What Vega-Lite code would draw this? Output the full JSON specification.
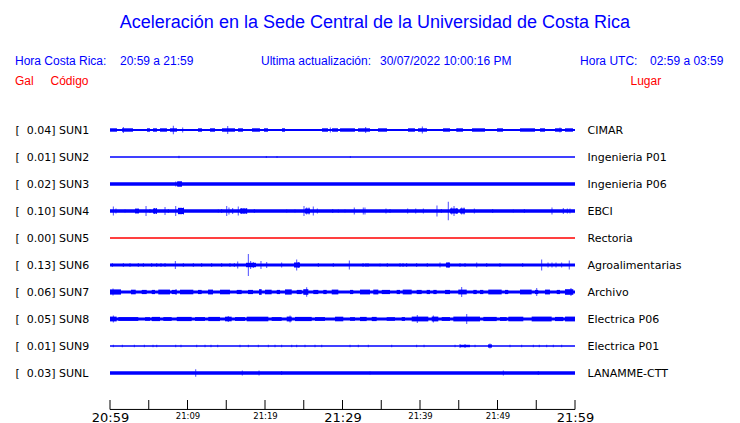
{
  "$schema": "https://vega.github.io/schema/vega-lite/v6.json",
  "width": 465,
  "height": 297,
  "autosize": {"type": "none"},
  "padding": {"left": 110, "top": 103, "right": 165, "bottom": 23},
  "background": "white",
  "config": {"view": {"stroke": null}},
  "datasets": {
    "estaciones": [
      {"codigo": "SUN1", "etiqueta": "[\u00a0\u00a00.04] SUN1", "lugar": "CIMAR", "ruido": 0.9},
      {"codigo": "SUN2", "etiqueta": "[\u00a0\u00a00.01] SUN2", "lugar": "Ingenieria P01", "ruido": 0.5},
      {"codigo": "SUN3", "etiqueta": "[\u00a0\u00a00.02] SUN3", "lugar": "Ingenieria P06", "ruido": 1.7},
      {"codigo": "SUN4", "etiqueta": "[\u00a0\u00a00.10] SUN4", "lugar": "EBCI", "ruido": 1.7},
      {"codigo": "SUN5", "etiqueta": "[\u00a0\u00a00.00] SUN5", "lugar": "Rectoria", "ruido": 0.5},
      {"codigo": "SUN6", "etiqueta": "[\u00a0\u00a00.13] SUN6", "lugar": "Agroalimentarias", "ruido": 1.5},
      {"codigo": "SUN7", "etiqueta": "[\u00a0\u00a00.06] SUN7", "lugar": "Archivo", "ruido": 1.6},
      {"codigo": "SUN8", "etiqueta": "[\u00a0\u00a00.05] SUN8", "lugar": "Electrica P06", "ruido": 1.6},
      {"codigo": "SUN9", "etiqueta": "[\u00a0\u00a00.01] SUN9", "lugar": "Electrica P01", "ruido": 0.5},
      {"codigo": "SUNL", "etiqueta": "[\u00a0\u00a00.03] SUNL", "lugar": "LANAMME-CTT", "ruido": 1.7}
    ],
    "tiempo": [
      {"t": 0}, {"t": 5}, {"t": 10}, {"t": 15}, {"t": 20}, {"t": 25}, {"t": 30},
      {"t": 35}, {"t": 40}, {"t": 45}, {"t": 50}, {"t": 55}, {"t": 60}
    ],
    "picos": [
      {"codigo": "SUN1", "t": 1.72, "a": 3}, {"codigo": "SUN1", "t": 8.17, "a": 4.3}, {"codigo": "SUN1", "t": 9.38, "a": 2.5},
      {"codigo": "SUN1", "t": 15.19, "a": 4}, {"codigo": "SUN1", "t": 28.43, "a": 2.5}, {"codigo": "SUN1", "t": 32.99, "a": 3},
      {"codigo": "SUN1", "t": 40.3, "a": 3.5}, {"codigo": "SUN1", "t": 44.74, "a": 2}, {"codigo": "SUN1", "t": 58.06, "a": 2.5},
      {"codigo": "SUN2", "t": 8.9, "a": 1.2}, {"codigo": "SUN2", "t": 20.17, "a": 1}, {"codigo": "SUN2", "t": 21.55, "a": 1}, {"codigo": "SUN2", "t": 31.01, "a": 1},
      {"codigo": "SUN3", "t": 8.48, "a": 2.5}, {"codigo": "SUN3", "t": 8.9, "a": 2.8}, {"codigo": "SUN3", "t": 9.16, "a": 2.8},
      {"codigo": "SUN4", "t": 0.43, "a": 4.5}, {"codigo": "SUN4", "t": 0.77, "a": 2.5}, {"codigo": "SUN4", "t": 1.94, "a": 1.5},
      {"codigo": "SUN4", "t": 3.35, "a": 2.5}, {"codigo": "SUN4", "t": 3.61, "a": 2.5}, {"codigo": "SUN4", "t": 4.65, "a": 5},
      {"codigo": "SUN4", "t": 5.16, "a": 2}, {"codigo": "SUN4", "t": 5.74, "a": 3}, {"codigo": "SUN4", "t": 6.0, "a": 3},
      {"codigo": "SUN4", "t": 7.1, "a": 4}, {"codigo": "SUN4", "t": 7.52, "a": 2}, {"codigo": "SUN4", "t": 8.48, "a": 5},
      {"codigo": "SUN4", "t": 8.9, "a": 3.5}, {"codigo": "SUN4", "t": 9.16, "a": 3.5}, {"codigo": "SUN4", "t": 9.48, "a": 3.5},
      {"codigo": "SUN4", "t": 13.97, "a": 1.5}, {"codigo": "SUN4", "t": 14.41, "a": 2}, {"codigo": "SUN4", "t": 15.06, "a": 5},
      {"codigo": "SUN4", "t": 15.35, "a": 3.5}, {"codigo": "SUN4", "t": 15.83, "a": 3}, {"codigo": "SUN4", "t": 16.55, "a": 4.5},
      {"codigo": "SUN4", "t": 16.99, "a": 3}, {"codigo": "SUN4", "t": 17.29, "a": 3}, {"codigo": "SUN4", "t": 17.64, "a": 3},
      {"codigo": "SUN4", "t": 18.62, "a": 2}, {"codigo": "SUN4", "t": 22.8, "a": 1.5}, {"codigo": "SUN4", "t": 23.87, "a": 1.5},
      {"codigo": "SUN4", "t": 25.03, "a": 5}, {"codigo": "SUN4", "t": 25.38, "a": 3.5}, {"codigo": "SUN4", "t": 25.68, "a": 3.5},
      {"codigo": "SUN4", "t": 26.23, "a": 4.5}, {"codigo": "SUN4", "t": 26.75, "a": 2.5}, {"codigo": "SUN4", "t": 28.74, "a": 2},
      {"codigo": "SUN4", "t": 29.46, "a": 1.5}, {"codigo": "SUN4", "t": 30.32, "a": 1.5}, {"codigo": "SUN4", "t": 31.52, "a": 3.5},
      {"codigo": "SUN4", "t": 32.68, "a": 3.5}, {"codigo": "SUN4", "t": 32.9, "a": 3.5}, {"codigo": "SUN4", "t": 35.61, "a": 2.5},
      {"codigo": "SUN4", "t": 36.13, "a": 2}, {"codigo": "SUN4", "t": 38.41, "a": 2.5}, {"codigo": "SUN4", "t": 39.45, "a": 2.5},
      {"codigo": "SUN4", "t": 40.43, "a": 2.5}, {"codigo": "SUN4", "t": 42.19, "a": 5.5}, {"codigo": "SUN4", "t": 42.75, "a": 2},
      {"codigo": "SUN4", "t": 43.65, "a": 9.3}, {"codigo": "SUN4", "t": 44.09, "a": 3.5}, {"codigo": "SUN4", "t": 44.39, "a": 5},
      {"codigo": "SUN4", "t": 44.74, "a": 3}, {"codigo": "SUN4", "t": 45.38, "a": 3.5}, {"codigo": "SUN4", "t": 45.68, "a": 3.5},
      {"codigo": "SUN4", "t": 47.01, "a": 2.5}, {"codigo": "SUN4", "t": 49.38, "a": 2}, {"codigo": "SUN4", "t": 52.04, "a": 1.5},
      {"codigo": "SUN4", "t": 53.46, "a": 2}, {"codigo": "SUN4", "t": 57.03, "a": 3.5}, {"codigo": "SUN4", "t": 58.49, "a": 3},
      {"codigo": "SUN4", "t": 59.01, "a": 2.5}, {"codigo": "SUN4", "t": 59.35, "a": 2.5},
      {"codigo": "SUN6", "t": 0.3, "a": 2}, {"codigo": "SUN6", "t": 1.72, "a": 2}, {"codigo": "SUN6", "t": 2.58, "a": 2},
      {"codigo": "SUN6", "t": 3.65, "a": 2}, {"codigo": "SUN6", "t": 4.3, "a": 2}, {"codigo": "SUN6", "t": 5.38, "a": 2},
      {"codigo": "SUN6", "t": 6.03, "a": 2}, {"codigo": "SUN6", "t": 6.58, "a": 2}, {"codigo": "SUN6", "t": 7.1, "a": 2},
      {"codigo": "SUN6", "t": 8.43, "a": 4}, {"codigo": "SUN6", "t": 9.46, "a": 2}, {"codigo": "SUN6", "t": 10.75, "a": 2},
      {"codigo": "SUN6", "t": 11.83, "a": 2}, {"codigo": "SUN6", "t": 13.12, "a": 2}, {"codigo": "SUN6", "t": 14.41, "a": 2},
      {"codigo": "SUN6", "t": 15.48, "a": 2}, {"codigo": "SUN6", "t": 16.04, "a": 2}, {"codigo": "SUN6", "t": 16.48, "a": 3.5},
      {"codigo": "SUN6", "t": 17.85, "a": 11}, {"codigo": "SUN6", "t": 18.15, "a": 4}, {"codigo": "SUN6", "t": 18.49, "a": 3},
      {"codigo": "SUN6", "t": 19.48, "a": 4}, {"codigo": "SUN6", "t": 20.22, "a": 3}, {"codigo": "SUN6", "t": 22.15, "a": 2.5},
      {"codigo": "SUN6", "t": 24.09, "a": 5.5}, {"codigo": "SUN6", "t": 24.3, "a": 3}, {"codigo": "SUN6", "t": 26.88, "a": 2},
      {"codigo": "SUN6", "t": 28.81, "a": 2}, {"codigo": "SUN6", "t": 30.88, "a": 4.5}, {"codigo": "SUN6", "t": 32.65, "a": 2},
      {"codigo": "SUN6", "t": 33.03, "a": 2}, {"codigo": "SUN6", "t": 33.29, "a": 2}, {"codigo": "SUN6", "t": 34.84, "a": 1.5},
      {"codigo": "SUN6", "t": 35.78, "a": 2}, {"codigo": "SUN6", "t": 37.42, "a": 2}, {"codigo": "SUN6", "t": 37.81, "a": 2},
      {"codigo": "SUN6", "t": 38.28, "a": 2}, {"codigo": "SUN6", "t": 39.57, "a": 2}, {"codigo": "SUN6", "t": 40.94, "a": 2},
      {"codigo": "SUN6", "t": 42.58, "a": 2.5}, {"codigo": "SUN6", "t": 43.65, "a": 2.5}, {"codigo": "SUN6", "t": 45.16, "a": 2},
      {"codigo": "SUN6", "t": 45.81, "a": 2}, {"codigo": "SUN6", "t": 47.32, "a": 2.5}, {"codigo": "SUN6", "t": 48.61, "a": 2},
      {"codigo": "SUN6", "t": 50.32, "a": 2}, {"codigo": "SUN6", "t": 53.25, "a": 2}, {"codigo": "SUN6", "t": 55.7, "a": 5.5},
      {"codigo": "SUN6", "t": 56.52, "a": 2.5}, {"codigo": "SUN6", "t": 57.03, "a": 2.5}, {"codigo": "SUN6", "t": 57.55, "a": 2.5},
      {"codigo": "SUN6", "t": 58.28, "a": 2.5}, {"codigo": "SUN6", "t": 59.26, "a": 4.5},
      {"codigo": "SUN7", "t": 0.39, "a": 3.5}, {"codigo": "SUN7", "t": 8.52, "a": 3}, {"codigo": "SUN7", "t": 25.38, "a": 4.7},
      {"codigo": "SUN7", "t": 45.38, "a": 5}, {"codigo": "SUN7", "t": 55.06, "a": 4}, {"codigo": "SUN7", "t": 59.48, "a": 4},
      {"codigo": "SUN8", "t": 0.43, "a": 3.5}, {"codigo": "SUN8", "t": 15.26, "a": 3}, {"codigo": "SUN8", "t": 23.23, "a": 3.5},
      {"codigo": "SUN8", "t": 39.65, "a": 4}, {"codigo": "SUN8", "t": 41.72, "a": 3.5}, {"codigo": "SUN8", "t": 46.03, "a": 5},
      {"codigo": "SUN9", "t": 0.43, "a": 1.2}, {"codigo": "SUN9", "t": 1.59, "a": 1.2}, {"codigo": "SUN9", "t": 3.14, "a": 1.2},
      {"codigo": "SUN9", "t": 4.43, "a": 1.2}, {"codigo": "SUN9", "t": 5.55, "a": 1.2}, {"codigo": "SUN9", "t": 6.03, "a": 1.2},
      {"codigo": "SUN9", "t": 8.48, "a": 1.2}, {"codigo": "SUN9", "t": 9.16, "a": 1.2}, {"codigo": "SUN9", "t": 11.19, "a": 1.2},
      {"codigo": "SUN9", "t": 12.26, "a": 1.2}, {"codigo": "SUN9", "t": 13.03, "a": 1.2}, {"codigo": "SUN9", "t": 13.9, "a": 1.2},
      {"codigo": "SUN9", "t": 16.77, "a": 1.2}, {"codigo": "SUN9", "t": 17.85, "a": 1.2}, {"codigo": "SUN9", "t": 19.14, "a": 1.2},
      {"codigo": "SUN9", "t": 20.43, "a": 1.2}, {"codigo": "SUN9", "t": 21.29, "a": 1.2}, {"codigo": "SUN9", "t": 22.15, "a": 1.2},
      {"codigo": "SUN9", "t": 23.45, "a": 1.2}, {"codigo": "SUN9", "t": 24.09, "a": 1.2}, {"codigo": "SUN9", "t": 25.16, "a": 1.2},
      {"codigo": "SUN9", "t": 26.45, "a": 1.2}, {"codigo": "SUN9", "t": 27.32, "a": 1.2}, {"codigo": "SUN9", "t": 30.97, "a": 1.2},
      {"codigo": "SUN9", "t": 32.04, "a": 1.2}, {"codigo": "SUN9", "t": 33.33, "a": 1.2}, {"codigo": "SUN9", "t": 36.35, "a": 1.2},
      {"codigo": "SUN9", "t": 39.57, "a": 1.2}, {"codigo": "SUN9", "t": 40.52, "a": 1.2}, {"codigo": "SUN9", "t": 44.52, "a": 1.2},
      {"codigo": "SUN9", "t": 45.16, "a": 2}, {"codigo": "SUN9", "t": 45.81, "a": 2}, {"codigo": "SUN9", "t": 47.1, "a": 1.2},
      {"codigo": "SUN9", "t": 49.03, "a": 2.5}, {"codigo": "SUN9", "t": 51.61, "a": 1.2}, {"codigo": "SUN9", "t": 53.12, "a": 1.2},
      {"codigo": "SUN9", "t": 54.62, "a": 1.2}, {"codigo": "SUN9", "t": 55.39, "a": 1.2}, {"codigo": "SUN9", "t": 56.35, "a": 1.2},
      {"codigo": "SUN9", "t": 57.2, "a": 1.2}, {"codigo": "SUN9", "t": 58.28, "a": 1.2},
      {"codigo": "SUNL", "t": 11.06, "a": 3.7}, {"codigo": "SUNL", "t": 17.07, "a": 2.5}, {"codigo": "SUNL", "t": 19.23, "a": 2.5},
      {"codigo": "SUNL", "t": 22.15, "a": 2}, {"codigo": "SUNL", "t": 33.55, "a": 1.5}, {"codigo": "SUNL", "t": 50.75, "a": 2.5},
      {"codigo": "SUNL", "t": 55.26, "a": 2}
    ],
    "rafagas": [
      {"codigo": "SUN1", "t0": 0, "t1": 0.9, "a": 1.7}, {"codigo": "SUN1", "t0": 1.55, "t1": 2.97, "a": 1.7},
      {"codigo": "SUN1", "t0": 4.77, "t1": 5.16, "a": 1.7}, {"codigo": "SUN1", "t0": 5.55, "t1": 6.06, "a": 1.7},
      {"codigo": "SUN1", "t0": 6.45, "t1": 7.35, "a": 1.7}, {"codigo": "SUN1", "t0": 7.74, "t1": 8.65, "a": 1.7},
      {"codigo": "SUN1", "t0": 11.35, "t1": 11.87, "a": 1.7}, {"codigo": "SUN1", "t0": 12.9, "t1": 13.55, "a": 1.7},
      {"codigo": "SUN1", "t0": 14.45, "t1": 16.13, "a": 1.7}, {"codigo": "SUN1", "t0": 16.52, "t1": 17.16, "a": 1.7},
      {"codigo": "SUN1", "t0": 18.32, "t1": 19.35, "a": 1.7}, {"codigo": "SUN1", "t0": 19.87, "t1": 20.39, "a": 1.7},
      {"codigo": "SUN1", "t0": 22.19, "t1": 22.58, "a": 1.7}, {"codigo": "SUN1", "t0": 27.35, "t1": 28.13, "a": 1.7},
      {"codigo": "SUN1", "t0": 28.65, "t1": 29.42, "a": 1.7}, {"codigo": "SUN1", "t0": 29.68, "t1": 31.61, "a": 1.7},
      {"codigo": "SUN1", "t0": 32.0, "t1": 33.55, "a": 1.7}, {"codigo": "SUN1", "t0": 34.58, "t1": 35.74, "a": 1.7},
      {"codigo": "SUN1", "t0": 38.45, "t1": 39.35, "a": 1.7}, {"codigo": "SUN1", "t0": 39.74, "t1": 40.9, "a": 1.7},
      {"codigo": "SUN1", "t0": 42.97, "t1": 43.87, "a": 1.7}, {"codigo": "SUN1", "t0": 44.77, "t1": 45.55, "a": 1.7},
      {"codigo": "SUN1", "t0": 46.71, "t1": 48.39, "a": 1.7}, {"codigo": "SUN1", "t0": 49.94, "t1": 50.71, "a": 1.7},
      {"codigo": "SUN1", "t0": 52.9, "t1": 54.84, "a": 1.7}, {"codigo": "SUN1", "t0": 55.48, "t1": 56.13, "a": 1.7},
      {"codigo": "SUN1", "t0": 57.42, "t1": 58.32, "a": 1.7}, {"codigo": "SUN1", "t0": 58.71, "t1": 59.74, "a": 1.7},
      {"codigo": "SUN3", "t0": 8.65, "t1": 9.29, "a": 2.6},
      {"codigo": "SUN4", "t0": 3.23, "t1": 3.74, "a": 2.3}, {"codigo": "SUN4", "t0": 5.55, "t1": 6.06, "a": 2.5},
      {"codigo": "SUN4", "t0": 8.77, "t1": 9.55, "a": 3}, {"codigo": "SUN4", "t0": 16.77, "t1": 17.68, "a": 2.5},
      {"codigo": "SUN4", "t0": 25.16, "t1": 25.81, "a": 2.5}, {"codigo": "SUN4", "t0": 43.87, "t1": 44.9, "a": 2.5},
      {"codigo": "SUN4", "t0": 45.16, "t1": 45.81, "a": 2.5},
      {"codigo": "SUN6", "t0": 17.55, "t1": 18.84, "a": 2.2}, {"codigo": "SUN6", "t0": 23.74, "t1": 24.52, "a": 2.5},
      {"codigo": "SUN6", "t0": 43.35, "t1": 43.87, "a": 2.5},
      {"codigo": "SUN7", "t0": 0, "t1": 1.42, "a": 2.6}, {"codigo": "SUN7", "t0": 2.71, "t1": 3.32, "a": 2.3},
      {"codigo": "SUN7", "t0": 4.09, "t1": 4.74, "a": 2.1}, {"codigo": "SUN7", "t0": 5.38, "t1": 5.81, "a": 2.1},
      {"codigo": "SUN7", "t0": 6.23, "t1": 7.74, "a": 2.4}, {"codigo": "SUN7", "t0": 7.96, "t1": 8.61, "a": 2.1},
      {"codigo": "SUN7", "t0": 9.03, "t1": 10.75, "a": 2.3}, {"codigo": "SUN7", "t0": 11.35, "t1": 11.83, "a": 2.1},
      {"codigo": "SUN7", "t0": 12.65, "t1": 13.29, "a": 2.4}, {"codigo": "SUN7", "t0": 14.19, "t1": 15.48, "a": 2.3},
      {"codigo": "SUN7", "t0": 16.35, "t1": 16.99, "a": 2.1}, {"codigo": "SUN7", "t0": 17.81, "t1": 18.45, "a": 2.1},
      {"codigo": "SUN7", "t0": 19.23, "t1": 19.57, "a": 2.8}, {"codigo": "SUN7", "t0": 20.0, "t1": 20.86, "a": 2.3},
      {"codigo": "SUN7", "t0": 21.51, "t1": 21.94, "a": 2.1}, {"codigo": "SUN7", "t0": 22.58, "t1": 23.45, "a": 2.6},
      {"codigo": "SUN7", "t0": 24.09, "t1": 24.74, "a": 2.1}, {"codigo": "SUN7", "t0": 24.94, "t1": 25.59, "a": 2.8},
      {"codigo": "SUN7", "t0": 26.23, "t1": 26.88, "a": 2.1}, {"codigo": "SUN7", "t0": 27.52, "t1": 27.96, "a": 2.1},
      {"codigo": "SUN7", "t0": 28.61, "t1": 29.46, "a": 2.4}, {"codigo": "SUN7", "t0": 30.97, "t1": 31.39, "a": 2.1},
      {"codigo": "SUN7", "t0": 32.26, "t1": 33.55, "a": 2.4}, {"codigo": "SUN7", "t0": 33.97, "t1": 34.62, "a": 2.4},
      {"codigo": "SUN7", "t0": 35.06, "t1": 36.13, "a": 2.1}, {"codigo": "SUN7", "t0": 36.99, "t1": 37.42, "a": 2.1},
      {"codigo": "SUN7", "t0": 37.77, "t1": 38.93, "a": 2.4}, {"codigo": "SUN7", "t0": 39.57, "t1": 40.22, "a": 2.1},
      {"codigo": "SUN7", "t0": 40.86, "t1": 41.29, "a": 2.1}, {"codigo": "SUN7", "t0": 41.72, "t1": 42.15, "a": 2.1},
      {"codigo": "SUN7", "t0": 43.23, "t1": 43.87, "a": 2.1}, {"codigo": "SUN7", "t0": 44.94, "t1": 46.03, "a": 2.4},
      {"codigo": "SUN7", "t0": 46.88, "t1": 47.32, "a": 2.1}, {"codigo": "SUN7", "t0": 47.74, "t1": 48.17, "a": 2.1},
      {"codigo": "SUN7", "t0": 48.81, "t1": 50.54, "a": 2.4}, {"codigo": "SUN7", "t0": 50.97, "t1": 51.39, "a": 2.1},
      {"codigo": "SUN7", "t0": 52.9, "t1": 54.41, "a": 2.4}, {"codigo": "SUN7", "t0": 54.84, "t1": 55.26, "a": 2.1},
      {"codigo": "SUN7", "t0": 56.13, "t1": 56.77, "a": 2.4}, {"codigo": "SUN7", "t0": 57.64, "t1": 58.06, "a": 2.1},
      {"codigo": "SUN7", "t0": 58.71, "t1": 59.78, "a": 2.8},
      {"codigo": "SUN8", "t0": 0, "t1": 0.86, "a": 2.4}, {"codigo": "SUN8", "t0": 1.07, "t1": 3.65, "a": 1.9},
      {"codigo": "SUN8", "t0": 4.52, "t1": 5.16, "a": 1.8}, {"codigo": "SUN8", "t0": 5.38, "t1": 6.45, "a": 2.1},
      {"codigo": "SUN8", "t0": 6.88, "t1": 7.96, "a": 1.9}, {"codigo": "SUN8", "t0": 8.61, "t1": 10.54, "a": 2.1},
      {"codigo": "SUN8", "t0": 10.97, "t1": 12.26, "a": 1.9}, {"codigo": "SUN8", "t0": 12.68, "t1": 14.19, "a": 2.1},
      {"codigo": "SUN8", "t0": 14.84, "t1": 15.7, "a": 2.3}, {"codigo": "SUN8", "t0": 16.13, "t1": 17.42, "a": 1.9},
      {"codigo": "SUN8", "t0": 17.64, "t1": 20.43, "a": 2.3}, {"codigo": "SUN8", "t0": 20.86, "t1": 22.15, "a": 1.9},
      {"codigo": "SUN8", "t0": 22.8, "t1": 23.45, "a": 2.4}, {"codigo": "SUN8", "t0": 23.87, "t1": 26.03, "a": 2.1},
      {"codigo": "SUN8", "t0": 26.45, "t1": 27.74, "a": 1.9}, {"codigo": "SUN8", "t0": 29.03, "t1": 30.1, "a": 2.3},
      {"codigo": "SUN8", "t0": 30.97, "t1": 31.61, "a": 1.8}, {"codigo": "SUN8", "t0": 32.26, "t1": 33.12, "a": 2.1},
      {"codigo": "SUN8", "t0": 33.77, "t1": 34.41, "a": 2.1}, {"codigo": "SUN8", "t0": 35.7, "t1": 36.77, "a": 1.8},
      {"codigo": "SUN8", "t0": 37.64, "t1": 38.06, "a": 1.9}, {"codigo": "SUN8", "t0": 38.93, "t1": 41.07, "a": 2.4},
      {"codigo": "SUN8", "t0": 41.51, "t1": 42.36, "a": 2.4}, {"codigo": "SUN8", "t0": 42.8, "t1": 43.87, "a": 1.9},
      {"codigo": "SUN8", "t0": 44.3, "t1": 47.74, "a": 2.4}, {"codigo": "SUN8", "t0": 48.17, "t1": 49.9, "a": 2.1},
      {"codigo": "SUN8", "t0": 50.32, "t1": 51.19, "a": 1.9}, {"codigo": "SUN8", "t0": 51.39, "t1": 53.33, "a": 2.3},
      {"codigo": "SUN8", "t0": 54.41, "t1": 56.99, "a": 2.4}, {"codigo": "SUN8", "t0": 57.42, "t1": 58.49, "a": 2.1},
      {"codigo": "SUN8", "t0": 58.71, "t1": 60, "a": 2.4},
      {"codigo": "SUN9", "t0": 45.16, "t1": 46.45, "a": 1.2}, {"codigo": "SUN9", "t0": 48.77, "t1": 49.29, "a": 1.6}
    ]
  },
  "resolve": {"scale": {"y": "independent"}, "axis": {"y": "independent"}},
  "layer": [
    {
      "data": {"name": "estaciones"},
      "mark": {"type": "rule"},
      "encoding": {
        "y": {
          "field": "etiqueta", "type": "nominal", "sort": null,
          "scale": {"type": "point", "padding": 1},
          "axis": {"orient": "left", "title": null, "domain": false, "ticks": false, "grid": false,
                   "labelAlign": "left", "labelPadding": 95, "labelFont": "DejaVu Sans", "labelFontSize": 11,
                   "labelColor": "black", "labelLimit": 300}
        },
        "x": {
          "datum": 0, "type": "quantitative",
          "scale": {"domain": [0, 60], "nice": false, "zero": false},
          "axis": {"orient": "bottom", "offset": 9, "title": null, "grid": false,
                   "domain": false, "ticks": false, "tickSize": 0,
                   "values": [0, 5, 10, 15, 20, 25, 30, 35, 40, 45, 50, 55, 60],
                   "labelFont": "DejaVu Sans", "labelColor": "#000000", "labelPadding": 2,
                   "labelFontSize": {"condition": {"test": "datum.value % 30 === 0", "value": 13}, "value": 8.5},
                   "labelExpr": "datum.value % 10 === 0 ? timeFormat(datetime(2022, 6, 30, 20, 59 + datum.value), '%H:%M') : ''",
                   "labelOverlap": false, "labelFlush": false, "labelBound": false}
        },
        "x2": {"datum": 60},
        "strokeWidth": {"field": "ruido", "type": "quantitative", "scale": {"domain": [0, 10], "range": [0, 20]}, "legend": null},
        "color": {"condition": {"test": "datum.codigo === 'SUN5'", "value": "#ff0000"}, "value": "#0000ff"}
      }
    },
    {
      "data": {"name": "estaciones"},
      "mark": {"type": "rule", "strokeWidth": 1},
      "encoding": {
        "y": {
          "field": "lugar", "type": "nominal", "sort": null,
          "scale": {"type": "point", "padding": 1},
          "axis": {"orient": "right", "title": null, "domain": false, "ticks": false, "grid": false,
                   "labelAlign": "left", "labelPadding": 12, "labelFont": "DejaVu Sans", "labelFontSize": 11,
                   "labelColor": "black", "labelLimit": 300}
        },
        "x": {"datum": 0, "type": "quantitative"},
        "x2": {"datum": 60},
        "color": {"condition": {"test": "datum.codigo === 'SUN5'", "value": "#ff0000"}, "value": "#0000ff"}
      }
    },
    {
      "layer": [
        {
          "data": {"name": "rafagas"},
          "mark": {"type": "rule", "color": "#0000ff"},
          "encoding": {
            "x": {"field": "t0", "type": "quantitative", "title": null},
            "x2": {"field": "t1"},
            "y": {"field": "codigo", "type": "nominal",
                  "scale": {"type": "point", "padding": 1, "domain": ["SUN1", "SUN2", "SUN3", "SUN4", "SUN5", "SUN6", "SUN7", "SUN8", "SUN9", "SUNL"]},
                  "axis": null},
            "strokeWidth": {"field": "a", "type": "quantitative", "scale": {"domain": [0, 10], "range": [0, 20]}, "legend": null}
          }
        },
        {
          "data": {"name": "picos"},
          "mark": {"type": "tick", "orient": "vertical", "thickness": 1, "color": "#0000ff"},
          "encoding": {
            "x": {"field": "t", "type": "quantitative", "title": null},
            "y": {"field": "codigo", "type": "nominal",
                  "scale": {"type": "point", "padding": 1, "domain": ["SUN1", "SUN2", "SUN3", "SUN4", "SUN5", "SUN6", "SUN7", "SUN8", "SUN9", "SUNL"]},
                  "axis": null},
            "size": {"field": "a", "type": "quantitative", "scale": {"domain": [0, 10], "range": [0, 20]}, "legend": null}
          }
        }
      ]
    },
    {
      "data": {"values": [{}]},
      "encoding": {
        "y": {"datum": 0, "type": "quantitative", "scale": {"domain": [0, 11], "reverse": true, "nice": false, "zero": false}, "axis": null}
      },
      "layer": [
        {
          "mark": {"type": "rule", "color": "#000000", "strokeWidth": 1},
          "encoding": {
            "x": {"datum": 0, "type": "quantitative"}, "x2": {"datum": 60},
            "y": {"datum": 11.35, "type": "quantitative", "axis": null}
          }
        },
        {
          "data": {"name": "tiempo"},
          "mark": {"type": "rule", "color": "#000000", "strokeWidth": 1},
          "encoding": {
            "x": {"field": "t", "type": "quantitative", "title": null},
            "y": {"datum": 11.0, "type": "quantitative", "axis": null},
            "y2": {"datum": 11.35}
          }
        },
        {
          "mark": {"type": "text", "text": "Aceleración en la Sede Central de la Universidad de Costa Rica", "font": "Liberation Sans", "fontSize": 18, "color": "#0000ff", "align": "center", "baseline": "middle"},
          "encoding": {"x": {"datum": 34.19, "type": "quantitative"}, "y": {"datum": -2.96, "type": "quantitative", "axis": null}}
        },
        {
          "mark": {"type": "text", "text": "Hora Costa Rica:", "font": "Liberation Sans", "fontSize": 12, "color": "#0000ff", "align": "left", "baseline": "middle"},
          "encoding": {"x": {"datum": -12.26, "type": "quantitative"}, "y": {"datum": -1.556, "type": "quantitative", "axis": null}}
        },
        {
          "mark": {"type": "text", "text": "20:59 a 21:59", "font": "Liberation Sans", "fontSize": 12, "color": "#0000ff", "align": "left", "baseline": "middle"},
          "encoding": {"x": {"datum": 1.29, "type": "quantitative"}, "y": {"datum": -1.556, "type": "quantitative", "axis": null}}
        },
        {
          "mark": {"type": "text", "text": "Ultima actualización:", "font": "Liberation Sans", "fontSize": 12, "color": "#0000ff", "align": "left", "baseline": "middle"},
          "encoding": {"x": {"datum": 19.48, "type": "quantitative"}, "y": {"datum": -1.556, "type": "quantitative", "axis": null}}
        },
        {
          "mark": {"type": "text", "text": "30/07/2022 10:00:16 PM", "font": "Liberation Sans", "fontSize": 12, "color": "#0000ff", "align": "left", "baseline": "middle"},
          "encoding": {"x": {"datum": 34.84, "type": "quantitative"}, "y": {"datum": -1.556, "type": "quantitative", "axis": null}}
        },
        {
          "mark": {"type": "text", "text": "Hora UTC:", "font": "Liberation Sans", "fontSize": 12, "color": "#0000ff", "align": "left", "baseline": "middle"},
          "encoding": {"x": {"datum": 60.65, "type": "quantitative"}, "y": {"datum": -1.556, "type": "quantitative", "axis": null}}
        },
        {
          "mark": {"type": "text", "text": "02:59 a 03:59", "font": "Liberation Sans", "fontSize": 12, "color": "#0000ff", "align": "left", "baseline": "middle"},
          "encoding": {"x": {"datum": 69.68, "type": "quantitative"}, "y": {"datum": -1.556, "type": "quantitative", "axis": null}}
        },
        {
          "mark": {"type": "text", "text": "Gal", "font": "Liberation Sans", "fontSize": 12, "color": "#ff0000", "align": "left", "baseline": "middle"},
          "encoding": {"x": {"datum": -12.26, "type": "quantitative"}, "y": {"datum": -0.815, "type": "quantitative", "axis": null}}
        },
        {
          "mark": {"type": "text", "text": "Código", "font": "Liberation Sans", "fontSize": 12, "color": "#ff0000", "align": "left", "baseline": "middle"},
          "encoding": {"x": {"datum": -7.68, "type": "quantitative"}, "y": {"datum": -0.815, "type": "quantitative", "axis": null}}
        },
        {
          "mark": {"type": "text", "text": "Lugar", "font": "Liberation Sans", "fontSize": 12, "color": "#ff0000", "align": "left", "baseline": "middle"},
          "encoding": {"x": {"datum": 67.16, "type": "quantitative"}, "y": {"datum": -0.815, "type": "quantitative", "axis": null}}
        }
      ]
    }
  ]
}
